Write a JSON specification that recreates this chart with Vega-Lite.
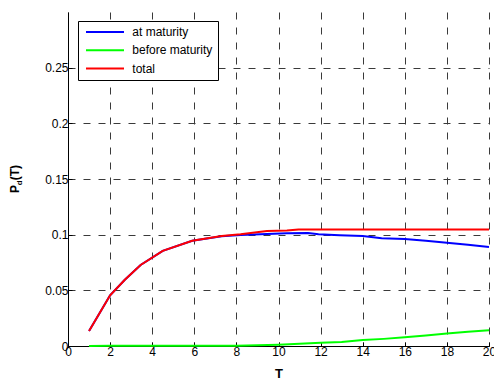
{
  "$schema": "https://vega.github.io/schema/vega-lite/v6.json",
  "width": 421,
  "height": 334,
  "autosize": {"type": "none"},
  "padding": {"left": 68, "top": 12, "right": 5, "bottom": 34},
  "background": "#ffffff",
  "config": {
    "view": {"stroke": null},
    "font": "Liberation Sans",
    "axis": {
      "domainColor": "#000000",
      "domainWidth": 1,
      "tickColor": "#000000",
      "tickSize": -4,
      "tickWidth": 1,
      "labelFont": "Liberation Sans",
      "labelFontSize": 12,
      "labelColor": "#000000",
      "labelFlush": false,
      "labelOverlap": false,
      "gridColor": "#3a3a3a",
      "gridDash": [7, 8],
      "gridWidth": 1,
      "gridOpacity": 1,
      "titleColor": "#000000",
      "titleFont": "Liberation Sans"
    }
  },
  "data": {
    "values": [
      {"T": 1, "P": 0.0135, "series": "at maturity"},
      {"T": 2, "P": 0.0455, "series": "at maturity"},
      {"T": 2.7, "P": 0.0595, "series": "at maturity"},
      {"T": 3.45, "P": 0.0728, "series": "at maturity"},
      {"T": 4.5, "P": 0.0855, "series": "at maturity"},
      {"T": 5.9, "P": 0.0945, "series": "at maturity"},
      {"T": 7.3, "P": 0.0985, "series": "at maturity"},
      {"T": 8.2, "P": 0.0997, "series": "at maturity"},
      {"T": 9.45, "P": 0.1007, "series": "at maturity"},
      {"T": 10.4, "P": 0.1012, "series": "at maturity"},
      {"T": 11.4, "P": 0.1015, "series": "at maturity"},
      {"T": 11.9, "P": 0.1003, "series": "at maturity"},
      {"T": 12.9, "P": 0.0995, "series": "at maturity"},
      {"T": 14, "P": 0.0987, "series": "at maturity"},
      {"T": 14.9, "P": 0.0967, "series": "at maturity"},
      {"T": 16, "P": 0.096, "series": "at maturity"},
      {"T": 17, "P": 0.0945, "series": "at maturity"},
      {"T": 18, "P": 0.0928, "series": "at maturity"},
      {"T": 19, "P": 0.091, "series": "at maturity"},
      {"T": 20, "P": 0.089, "series": "at maturity"},
      {"T": 1, "P": 0.0, "series": "before maturity"},
      {"T": 2, "P": 0.0002, "series": "before maturity"},
      {"T": 4, "P": 0.0003, "series": "before maturity"},
      {"T": 6, "P": 0.0003, "series": "before maturity"},
      {"T": 8, "P": 0.0003, "series": "before maturity"},
      {"T": 9, "P": 0.0006, "series": "before maturity"},
      {"T": 10, "P": 0.0011, "series": "before maturity"},
      {"T": 11, "P": 0.002, "series": "before maturity"},
      {"T": 12, "P": 0.003, "series": "before maturity"},
      {"T": 13, "P": 0.0036, "series": "before maturity"},
      {"T": 14, "P": 0.0053, "series": "before maturity"},
      {"T": 15, "P": 0.0064, "series": "before maturity"},
      {"T": 16, "P": 0.0079, "series": "before maturity"},
      {"T": 17, "P": 0.0094, "series": "before maturity"},
      {"T": 18, "P": 0.0112, "series": "before maturity"},
      {"T": 19, "P": 0.0129, "series": "before maturity"},
      {"T": 20, "P": 0.0141, "series": "before maturity"},
      {"T": 1, "P": 0.0135, "series": "total"},
      {"T": 2, "P": 0.0455, "series": "total"},
      {"T": 2.7, "P": 0.0595, "series": "total"},
      {"T": 3.45, "P": 0.0728, "series": "total"},
      {"T": 4.5, "P": 0.0855, "series": "total"},
      {"T": 5.9, "P": 0.0945, "series": "total"},
      {"T": 7.3, "P": 0.0988, "series": "total"},
      {"T": 8.2, "P": 0.1003, "series": "total"},
      {"T": 9.45, "P": 0.1033, "series": "total"},
      {"T": 10.4, "P": 0.1037, "series": "total"},
      {"T": 10.95, "P": 0.1047, "series": "total"},
      {"T": 15, "P": 0.1047, "series": "total"},
      {"T": 20, "P": 0.1047, "series": "total"}
    ]
  },
  "layer": [
    {
      "transform": [{"filter": "datum.series !== 'total'"}],
      "mark": {"type": "line", "strokeWidth": 2},
      "encoding": {
        "x": {
          "field": "T", "type": "quantitative",
          "scale": {"domain": [0, 20], "nice": false},
          "axis": {
            "values": [0, 2, 4, 6, 8, 10, 12, 14, 16, 18, 20],
            "format": "~g",
            "title": "T",
            "titleFontSize": 13,
            "titleFontWeight": "bold",
            "titleX": 210.5,
            "titleY": 31,
            "titleBaseline": "alphabetic",
            "titleAlign": "center",
            "labelPadding": 4
          }
        },
        "y": {
          "field": "P", "type": "quantitative",
          "scale": {"domain": [0, 0.3], "nice": false},
          "axis": {
            "values": [0, 0.05, 0.1, 0.15, 0.2, 0.25],
            "format": "~g",
            "title": "P\u2009\u2009(T)",
            "titleFontSize": 12,
            "titleFontWeight": "bold",
            "titleAngle": -90,
            "titleX": -49.5,
            "titleY": 166.5,
            "titleBaseline": "alphabetic",
            "titleAlign": "center",
            "labelPadding": 4
          }
        },
        "color": {
          "field": "series", "type": "nominal",
          "scale": {"domain": ["at maturity", "before maturity", "total"], "range": ["#0000ff", "#00ff00", "#ff0000"]},
          "legend": {
            "title": null,
            "orient": "none",
            "legendX": 10,
            "legendY": 9,
            "symbolType": "M-6,0H32",
            "symbolSize": 4,
            "symbolStrokeWidth": 2,
            "symbolOffset": 3,
            "labelOffset": 34.3,
            "rowPadding": 6.3,
            "padding": 5,
            "strokeColor": "#000000",
            "fillColor": "#ffffff",
            "cornerRadius": 0,
            "labelFontSize": 12,
            "labelFont": "Liberation Sans",
            "labelColor": "#000000"
          }
        }
      }
    },
    {
      "transform": [{"filter": "datum.series === 'total'"}],
      "mark": {"type": "line", "strokeWidth": 2},
      "encoding": {
        "x": {"field": "T", "type": "quantitative"},
        "y": {
          "field": "P", "type": "quantitative",
          "axis": {
            "orient": "right",
            "title": "d",
            "labels": false,
            "ticks": false,
            "domain": false,
            "grid": false,
            "titleFontSize": 8,
            "titleFontWeight": "bold",
            "titleAngle": -90,
            "titleX": -468,
            "titleY": 170.2,
            "titleBaseline": "alphabetic",
            "titleAlign": "center"
          }
        },
        "color": {"field": "series", "type": "nominal"}
      }
    }
  ],
  "resolve": {"axis": {"y": "independent"}}
}
